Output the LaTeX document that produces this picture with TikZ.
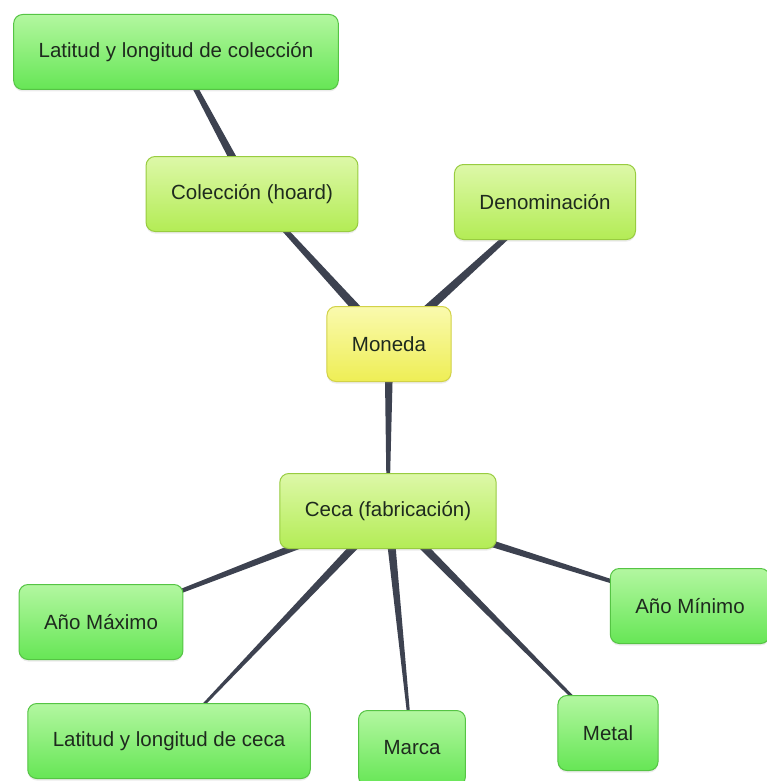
\documentclass[tikz,border=0pt]{standalone}
\usepackage{fontspec}
\setmainfont{Liberation Sans}
\usetikzlibrary{calc,backgrounds,shadows}

\definecolor{linkgray}{HTML}{3D4250}
\definecolor{textdark}{HTML}{1E2A1E}
\definecolor{greentop}{HTML}{B3F7A0}
\definecolor{greenbot}{HTML}{66E655}
\definecolor{greenedge}{HTML}{55C444}
\definecolor{limetop}{HTML}{DDF8A8}
\definecolor{limebot}{HTML}{B3EC55}
\definecolor{limeedge}{HTML}{98CC40}
\definecolor{yellowtop}{HTML}{FAFAAE}
\definecolor{yellowbot}{HTML}{EEEE55}
\definecolor{yellowedge}{HTML}{D2D248}

\tikzset{
  box/.style={rounded corners=9pt, minimum height=75pt, inner xsep=25pt,
    font=\fontsize{20.5}{24}\selectfont, text=textdark, line width=1pt,
    drop shadow={opacity=0.15, shadow xshift=0pt, shadow yshift=-2pt}},
  greenbox/.style={box, draw=greenedge, top color=greentop, bottom color=greenbot},
  limebox/.style={box, draw=limeedge, top color=limetop, bottom color=limebot},
  yellowbox/.style={box, draw=yellowedge, top color=yellowtop, bottom color=yellowbot}
}

% tapered connector: thick end at #1, thin end at #2
\newcommand{\taperlink}[4]{%
  \fill[linkgray] ($(#1)!#3!90:(#2)$) -- ($(#2)!#4!-90:(#1)$)
    -- ($(#2)!#4!90:(#1)$) -- ($(#1)!#3!-90:(#2)$) -- cycle;}

\begin{document}
\begin{tikzpicture}[x=1pt,y=-1pt]
  \useasboundingbox (0,0) rectangle (766,781);
  % Center
  \node[yellowbox] (moneda) at (389,344) {Moneda};
  % Upper branch
  \node[limebox] (hoard) at (252,194) {Colección (hoard)};
  \node[greenbox] (lcol) at (176,52) {Latitud y longitud de colección};
  \node[limebox] (denom) at (545,202) {Denominación};
  % Lower branch
  \node[limebox] (ceca) at (388,511) {Ceca (fabricación)};
  \node[greenbox] (amax) at (101,622) {Año Máximo};
  \node[greenbox] (amin) at (690,606) {Año Mínimo};
  \node[greenbox] (lceca) at (169,741) {Latitud y longitud de ceca};
  \node[greenbox] (marca) at (412,748) {Marca};
  \node[greenbox] (metal) at (608,733) {Metal};
  % Connectors
  \begin{pgfonlayer}{background}
    \fill[white] (0,0) rectangle (766,781);
    \foreach \a/\b/\wa/\wb in {hoard/lcol/4.5pt/2pt, moneda/hoard/5pt/2pt,
      moneda/denom/5pt/2.2pt, moneda/ceca/4.5pt/1.2pt, ceca/amax/4.5pt/1.2pt,
      ceca/amin/4.5pt/1.2pt, ceca/lceca/4.5pt/0.8pt, ceca/marca/4.5pt/1pt,
      ceca/metal/4.5pt/1pt}
      \taperlink{\a}{\b}{\wa}{\wb};
  \end{pgfonlayer}
\end{tikzpicture}
\end{document}
